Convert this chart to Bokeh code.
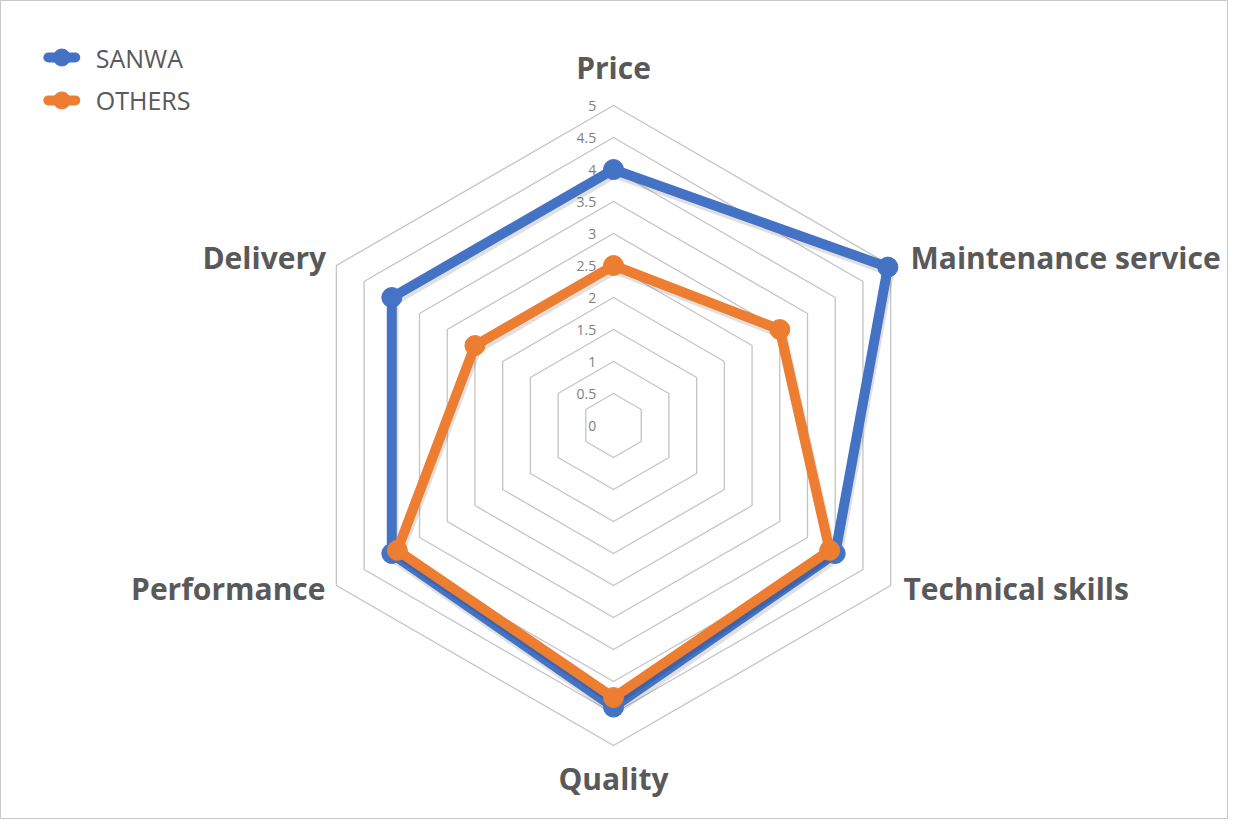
import numpy as np
from bokeh.plotting import figure
from bokeh.models import Range1d, ColumnDataSource
from bokeh.core.properties import value
from bokeh.embed import file_html
from bokeh.resources import INLINE

categories = ["Price", "Maintenance service", "Technical skills", "Quality", "Performance", "Delivery"]
sanwa = [4.0, 4.95, 4.0, 4.4, 4.0, 4.0]
others = [2.5, 3.0, 3.9, 4.25, 3.9, 2.5]
tick_values = [0, 0.5, 1, 1.5, 2, 2.5, 3, 3.5, 4, 4.5, 5]
tick_labels = ["0", "0.5", "1", "1.5", "2", "2.5", "3", "3.5", "4", "4.5", "5"]
series_names = ["SANWA", "OTHERS"]
series_colors = ["#4472C4", "#ED7D31"]

n = len(categories)
angles = np.pi / 2 - np.arange(n) * 2 * np.pi / n

def polar(vals):
    v = np.asarray(vals, dtype=float)
    xs = list(v * np.cos(angles))
    ys = list(v * np.sin(angles))
    return xs + [xs[0]], ys + [ys[0]]

W, H = 1228, 819
p = figure(width=W, height=H, output_backend="svg", toolbar_location=None,
           x_range=Range1d(-9.578, 9.609), y_range=Range1d(-6.156, 6.641),
           min_border=0, border_fill_color="white", background_fill_color="white")
p.axis.visible = False
p.grid.visible = False
p.outline_line_color = "#C8C8C8"
p.outline_line_width = 1

# grid rings
for t in tick_values[1:]:
    xs, ys = polar([t] * n)
    p.line(xs, ys, line_color="#C4C4C4", line_width=1.3)

# tick labels
p.text(x=[-0.27] * len(tick_values), y=tick_values, text=tick_labels,
       text_align="right", text_baseline="middle", text_font=value("Open Sans"),
       text_font_size="14px", text_color="#808080")

for name, vals, col in zip(series_names, [sanwa, others], series_colors):
    xs, ys = polar(vals)
    p.line([x + 0.02 for x in xs], [y - 0.05 for y in ys], line_color="#000000", line_alpha=0.12,
           line_width=11, line_join="round")
    p.line(xs, ys, line_color=col, line_width=10, line_join="round")
    p.scatter(xs[:-1], ys[:-1], size=20, fill_color=col, line_color=col)

# category labels
lab_r = 5.0
lx = list(np.cos(angles) * lab_r)
ly = list(np.sin(angles) * lab_r)
offsets_x = [0, 0.31, 0.2, 0, -0.17, -0.16]
offsets_y = [0.59, 0.13, -0.05, -0.52, -0.05, 0.13]
aligns = ["center", "left", "left", "center", "right", "right"]
src = ColumnDataSource(dict(
    x=[lx[i] + offsets_x[i] for i in range(n)],
    y=[ly[i] + offsets_y[i] for i in range(n)],
    t=categories, a=aligns))
p.text(x="x", y="y", text="t", text_align="a", text_baseline="middle", source=src,
       text_font=value("Open Sans"), text_font_style="bold", text_font_size="30px",
       text_color="#595959")

# legend (drawn manually, top-left)
leg_x0, leg_x1, leg_xm, leg_tx = -8.83, -8.41, -8.62, -8.09
leg_y = [5.75, 5.08]
for yy, nm, col in zip(leg_y, series_names, series_colors):
    p.line([leg_x0, leg_x1], [yy, yy], line_color=col, line_width=10, line_cap="round")
    p.scatter([leg_xm], [yy], size=17, fill_color=col, line_color=col)
p.text(x=[leg_tx] * 2, y=leg_y, text=series_names, text_align="left", text_baseline="middle",
       text_font=value("Open Sans"), text_font_size="25px", text_color="#595959")

open("out.html", "w").write(file_html(p, INLINE))
